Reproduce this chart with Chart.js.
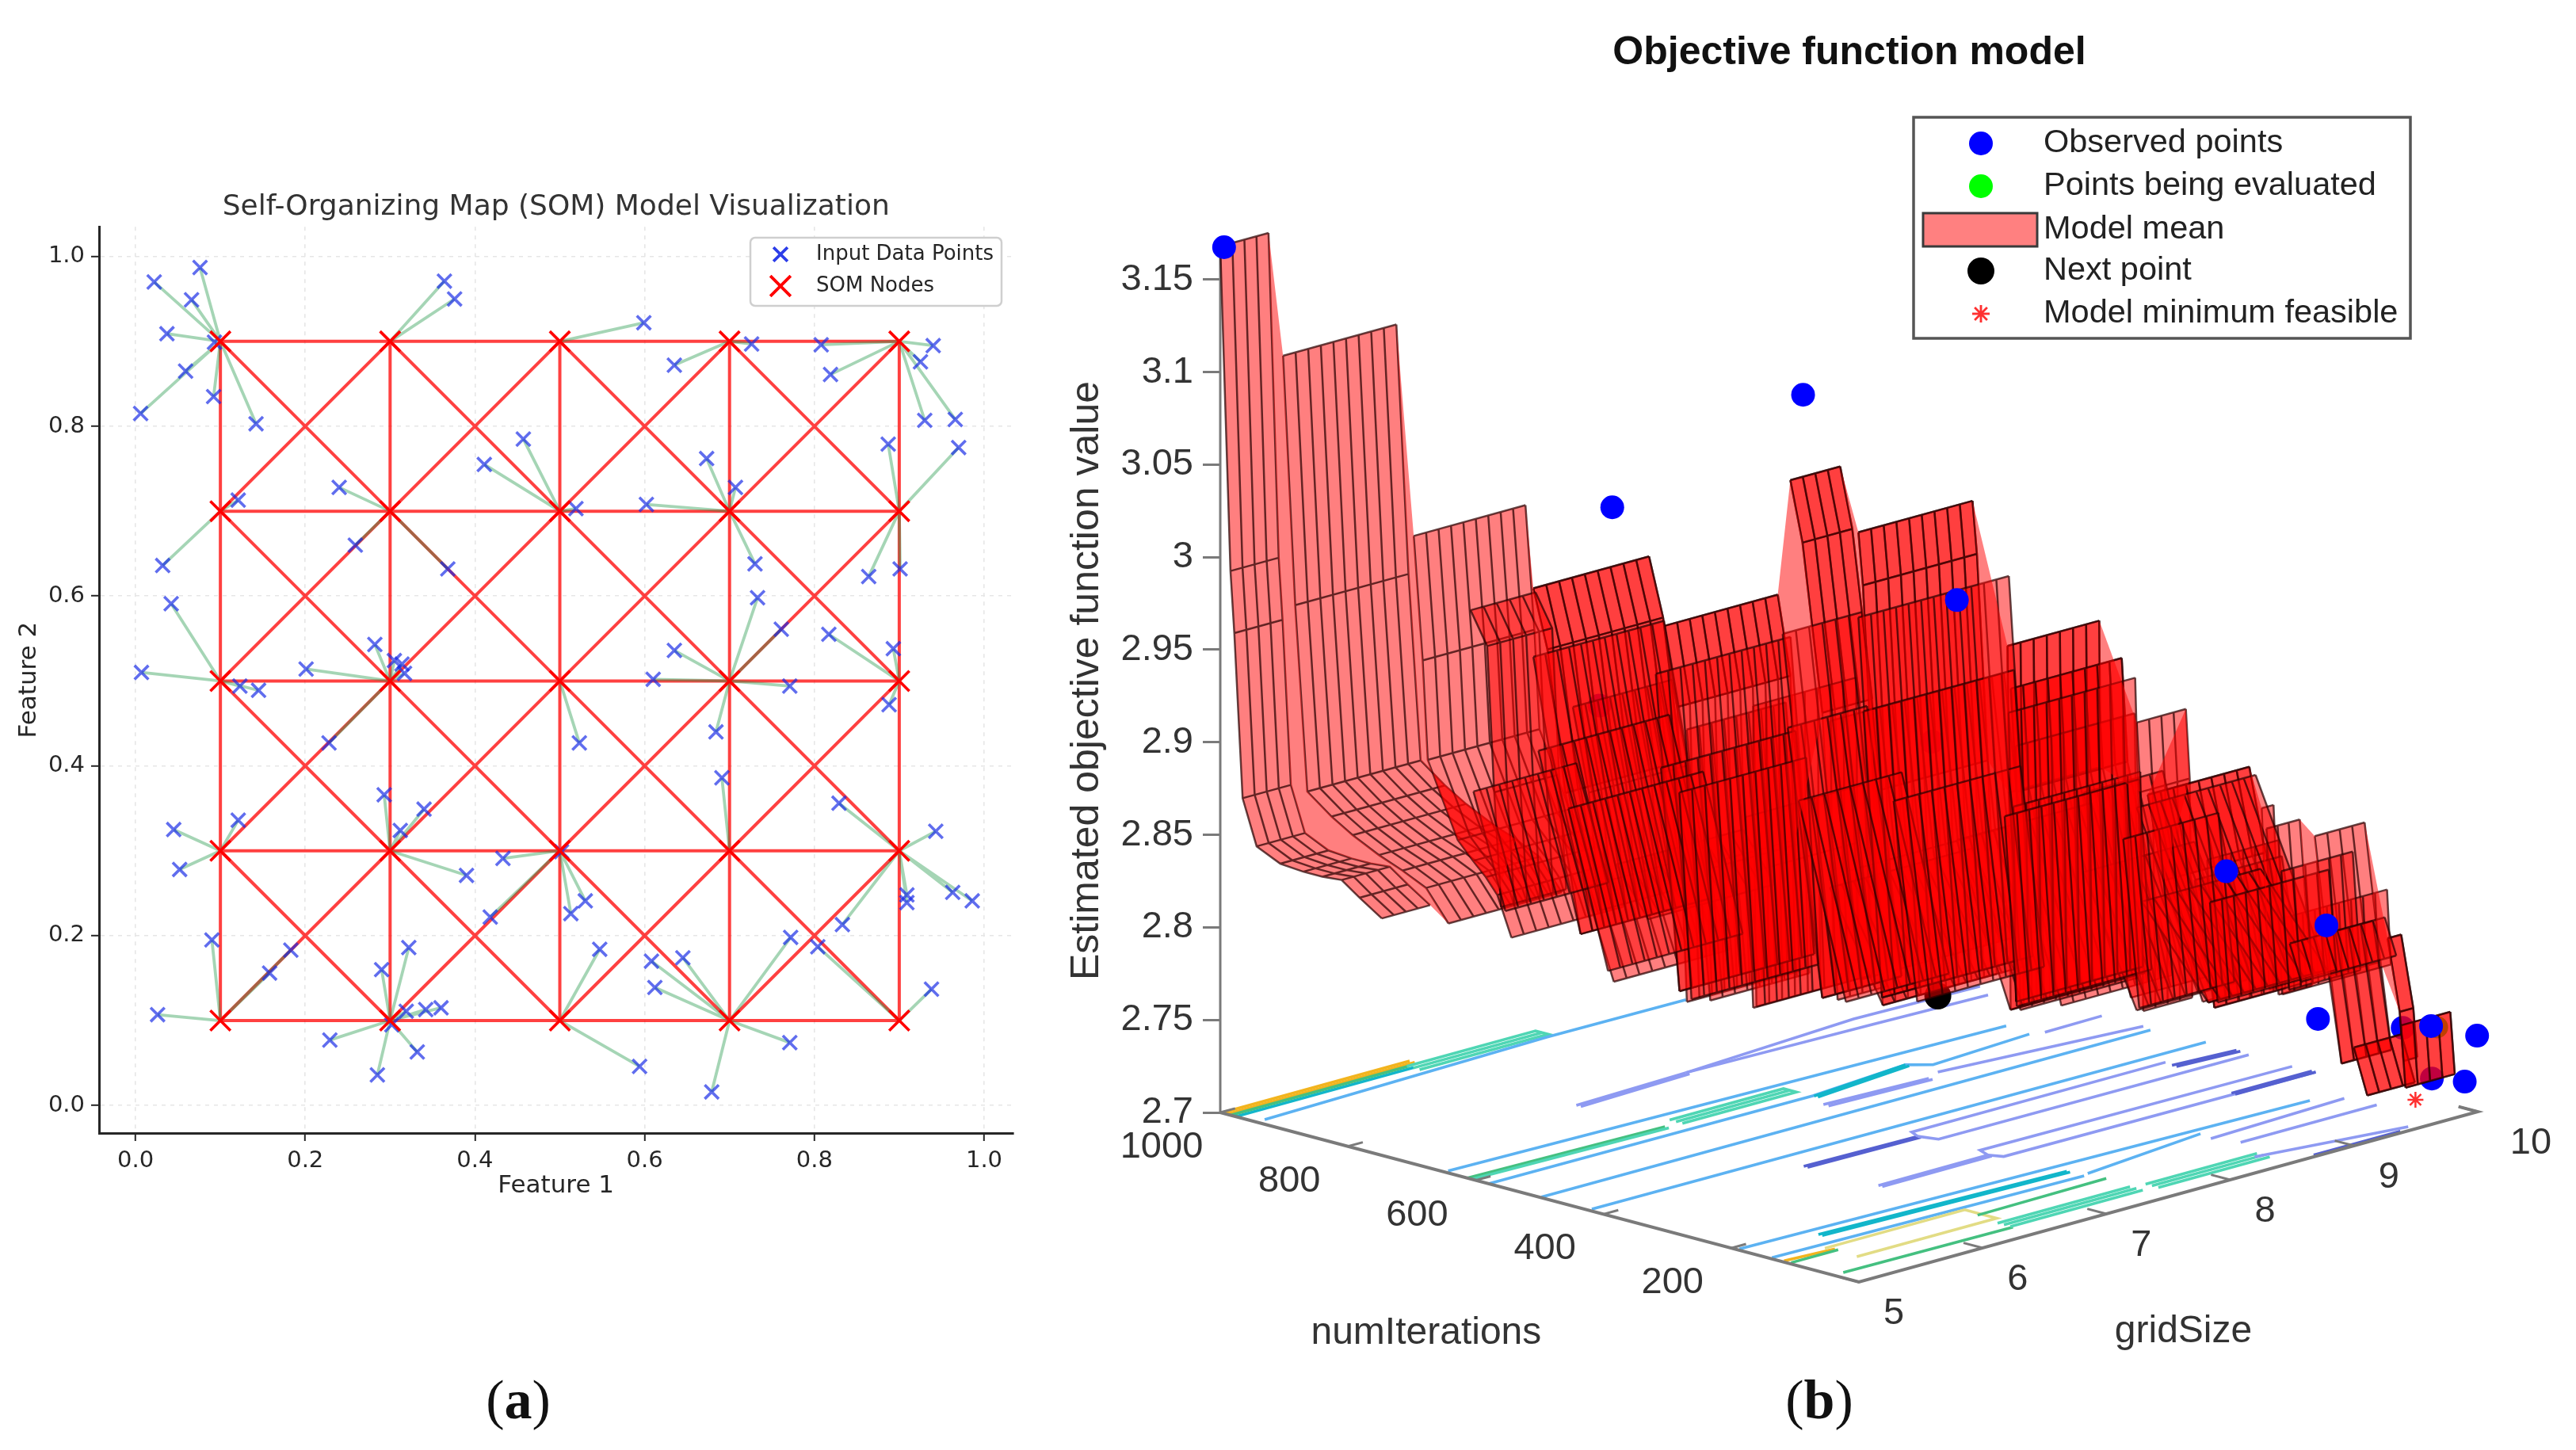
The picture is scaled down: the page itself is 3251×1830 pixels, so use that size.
<!DOCTYPE html>
<html>
<head>
<meta charset="utf-8">
<title>SOM model and objective function model</title>
<script src="https://cdn.jsdelivr.net/npm/chart.js@4"></script>
<style>
    html, body { margin: 0; padding: 0; background: #fff; }
    body { position: relative; width: 3251px; height: 1830px; overflow: hidden; }
    canvas { position: absolute; }
    #somChart { left: 0; top: 200px; }
    #objectiveChart { left: 1300px; top: 0; }
    .caption { position: absolute; top: 1727px; font: 70px "Liberation Serif", serif; color: #111; transform: translateX(-50%); }
    .caption b { font-weight: bold; }
</style>
</head>
<body>
<canvas id="somChart" width="1300" height="1340"></canvas>
<canvas id="objectiveChart" width="1951" height="1830"></canvas>
<div class="caption" style="left:654px">(<b>a</b>)</div>
<div class="caption" style="left:2296px">(<b>b</b>)</div>
<script>
// ---- panel (a): SOM ----
const somTicks = [0, 0.2, 0.4, 0.6, 0.8, 1];
const nodeX = [0.1, 0.3, 0.5, 0.7, 0.9];
const nodeY = [0.1, 0.3, 0.5, 0.7, 0.9];
const inputX = [0.022, 0.076, 0.066, 0.037, 0.093, 0.059, 0.092, 0.006, 0.142, 0.364, 0.376, 0.599, 0.635, 0.726, 0.808, 0.819, 0.940, 0.925, 0.966, 0.930,
    0.970, 0.887, 0.457, 0.411, 0.673, 0.707, 0.240, 0.121, 0.519, 0.602, 0.032, 0.259, 0.368, 0.730, 0.864, 0.901, 0.733, 0.042, 0.761, 0.817,
    0.635, 0.893, 0.282, 0.305, 0.314, 0.317, 0.201, 0.007, 0.123, 0.145, 0.610, 0.771, 0.888, 0.523, 0.228, 0.684, 0.691, 0.293, 0.829, 0.340,
    0.045, 0.121, 0.312, 0.943, 0.052, 0.502, 0.433, 0.390, 0.418, 0.530, 0.513, 0.909, 0.909, 0.963, 0.986, 0.833, 0.090, 0.183, 0.158, 0.322,
    0.290, 0.547, 0.608, 0.612, 0.645, 0.772, 0.804, 0.938, 0.026, 0.360, 0.342, 0.319, 0.302, 0.229, 0.332, 0.285, 0.594, 0.771, 0.679];
const inputY = [0.970, 0.987, 0.949, 0.909, 0.899, 0.865, 0.835, 0.815, 0.803, 0.971, 0.950, 0.922, 0.872, 0.897, 0.896, 0.861, 0.895, 0.876, 0.808, 0.807,
    0.775, 0.779, 0.785, 0.755, 0.762, 0.728, 0.728, 0.713, 0.703, 0.708, 0.636, 0.660, 0.632, 0.638, 0.623, 0.632, 0.598, 0.591, 0.561, 0.555,
    0.536, 0.538, 0.543, 0.524, 0.520, 0.509, 0.514, 0.510, 0.494, 0.489, 0.502, 0.494, 0.472, 0.427, 0.427, 0.440, 0.386, 0.366, 0.356, 0.349,
    0.325, 0.336, 0.324, 0.323, 0.278, 0.299, 0.291, 0.271, 0.222, 0.241, 0.226, 0.248, 0.239, 0.251, 0.241, 0.213, 0.195, 0.183, 0.156, 0.186,
    0.160, 0.184, 0.170, 0.139, 0.174, 0.198, 0.187, 0.137, 0.107, 0.115, 0.113, 0.111, 0.095, 0.077, 0.063, 0.036, 0.046, 0.074, 0.016];

// ---- panel (b): objective function model ----
const zTicks = [2.7, 2.75, 2.8, 2.85, 2.9, 2.95, 3, 3.05, 3.1, 3.15];
const iterTicks = [1000, 800, 600, 400, 200];
const gridTicks = [5, 6, 7, 8, 9, 10];

// observed points: the ones behind the surface come out purple
const hiddenGrid = [6, 7.5, 9, 9.6, 9.65];
const hiddenIter = [600, 370, 210, 40, 4];
const hiddenZ = [2.938, 2.912, 2.799, 2.749, 2.724];
const observedGrid = [5, 6, 7, 8, 9, 9.5, 8.9, 9.85, 10, 9.9];
const observedIter = [994, 580, 475, 428, 200, 140, 37, 44, 1, 1];
const observedZ = [3.168, 3.047, 3.099, 2.974, 2.830, 2.797, 2.767, 2.745, 2.741, 2.718];
const evaluatedGrid = [9.8];
const evaluatedIter = [25];
const evaluatedZ = [2.747];
const nextGrid = [7.65];
const nextIter = [390];
const nextZ = [2.770];
const minimumGrid = [9.6];
const minimumIter = [20];
const minimumZ = [2.712];

// model mean surface, one strip per step of the staircase
const sheetGridFrom = [5, 5.244, 5.753, 6.219, 6.732, 7.222, 7.488, 8.068, 8.08, 8.571, 8.614, 9.059, 9.077, 9.266, 9.55, 9.417, 9.602,
    6.219, 6.732, 7.222, 7.488, 8.068, 8.08, 8.614,
    5.975, 6.373, 6.818, 7.377, 7.077, 8.099, 8.364, 8.846, 9.123,
    6.543, 7.046, 7.377, 7.87, 8.364, 8.796,
    6.219, 6.698, 7.191, 7.488, 8.071, 8.571, 9.136,
    6.219, 6.698, 7.191, 7.488, 8.071, 8.571,
    9.266, 9.55, 9.417, 9.602,
    5.988, 6.358, 6.79, 7.253, 7.623, 8.056, 8.519, 8.858, 9.167];
const sheetGridTo = [5.39, 6.16, 6.656, 7.154, 7.647, 7.625, 8.41, 8.81, 8.976, 8.968, 9.434, 9.155, 9.346, 9.669, 9.66, 9.801, 10,
    7.154, 7.647, 7.625, 8.41, 8.81, 8.976, 9.434,
    6.5, 7.173, 7.618, 8.785, 7.909, 9.059, 9.004, 9.422, 10,
    7.567, 8.006, 8.529, 8.958, 9.26, 9.5,
    7.275, 7.786, 7.831, 8.704, 9.095, 9.531, 9.712,
    7.275, 7.786, 7.831, 8.704, 9.095, 9.531,
    9.669, 9.66, 9.801, 10,
    6.82, 7.446, 7.814, 8.085, 8.648, 9.144, 9.287, 9.818, 9.935];
const sheetIter = [
    [1000, 984, 978, 965, 943, 906, 870, 840, 810, 782, 747],
    [949, 930, 911, 873, 840, 799, 762, 725, 690],
    [843, 829, 821, 774, 750, 730, 712, 690],
    [746, 724, 696, 665, 620],
    [640, 620, 613, 605],
    [538, 519, 488, 464],
    [483, 476, 459, 445],
    [362, 360, 357],
    [359, 350, 280],
    [257, 251, 247],
    [248, 223, 162],
    [156, 144],
    [152, 133],
    [113, 88, 71],
    [54, 35, 29],
    [81, 60],
    [43, 36],
    [746, 724, 696],
    [640, 620],
    [538, 519, 488],
    [483, 476, 459],
    [362, 360],
    [359, 350],
    [248, 223],
    [797, 771, 760, 749],
    [714, 689, 671],
    [622, 603, 585],
    [506, 481, 456],
    [568, 566, 563],
    [355, 348],
    [300, 226],
    [200, 189],
    [142, 136],
    [679, 629],
    [574, 562],
    [506, 423],
    [403, 319],
    [300, 217],
    [210, 179],
    [746, 672],
    [647, 610],
    [544, 482],
    [483, 446],
    [361, 349],
    [257, 145],
    [140, 128],
    [738, 672],
    [639, 610],
    [536, 482],
    [475, 446],
    [353, 349],
    [249, 145],
    [100, 71],
    [54, 35, 29],
    [81, 60],
    [43, 36],
    [795, 745],
    [718, 656],
    [628, 609],
    [531, 457],
    [454, 417],
    [364, 345],
    [268, 243],
    [198, 186],
    [133, 115]
];
const sheetZ = [
    [3.168, 2.994, 2.961, 2.873, 2.849, 2.843, 2.842, 2.842, 2.843, 2.836, 2.828],
    [3.109, 2.976, 2.877, 2.867, 2.860, 2.853, 2.848, 2.842, 2.826],
    [3.012, 2.946, 2.893, 2.854, 2.845, 2.838, 2.830, 2.809],
    [2.984, 2.953, 2.878, 2.830, 2.783],
    [2.964, 2.922, 2.834, 2.764],
    [3.043, 3.011, 2.922, 2.769],
    [3.015, 2.987, 2.877, 2.763],
    [2.954, 2.875, 2.758],
    [2.931, 2.876, 2.767],
    [2.913, 2.876, 2.758],
    [2.874, 2.830, 2.770],
    [2.867, 2.770],
    [2.856, 2.768],
    [2.852, 2.779, 2.733],
    [2.797, 2.759, 2.733],
    [2.738, 2.714],
    [2.750, 2.717],
    [2.984, 2.953, 2.878],
    [2.964, 2.922],
    [3.043, 3.011, 2.922],
    [3.015, 2.987, 2.877],
    [2.954, 2.875],
    [2.931, 2.876],
    [2.874, 2.830],
    [2.972, 2.955, 2.877, 2.816],
    [2.920, 2.876, 2.814],
    [2.908, 2.833, 2.765],
    [2.913, 2.834, 2.778],
    [2.921, 2.832, 2.759],
    [2.900, 2.758],
    [2.875, 2.771],
    [2.839, 2.760],
    [2.807, 2.767],
    [2.835, 2.810],
    [2.861, 2.759],
    [2.823, 2.767],
    [2.849, 2.765],
    [2.832, 2.765],
    [2.828, 2.762],
    [2.947, 2.804],
    [2.938, 2.770],
    [2.960, 2.769],
    [2.969, 2.767],
    [2.918, 2.763],
    [2.867, 2.772],
    [2.833, 2.770],
    [2.897, 2.804],
    [2.888, 2.770],
    [2.910, 2.769],
    [2.919, 2.767],
    [2.868, 2.763],
    [2.817, 2.772],
    [2.800, 2.733],
    [2.797, 2.759, 2.733],
    [2.738, 2.714],
    [2.750, 2.717],
    [2.874, 2.814],
    [2.865, 2.783],
    [2.874, 2.764],
    [2.870, 2.768],
    [2.870, 2.765],
    [2.862, 2.761],
    [2.850, 2.761],
    [2.816, 2.763],
    [2.794, 2.775]
];
// steps of the staircase joined by a wall, and how many profile levels each side of it takes
const wallFrom = [0, 1, 2, 3, 4, 5, 6, 7, 9, 10, 12, 13];
const wallTo = [1, 2, 3, 4, 5, 6, 7, 9, 10, 11, 13, 14];
const wallNearLevels = [11, 7, 4, 2, 3, 3, 3, 2, 2, 2, 2, 2];
const wallFarLevels = [9, 7, 3, 2, 3, 3, 2, 2, 2, 2, 2, 2];

// contours on the floor of the box
const contourGrid = [
    [5, 6.52], [5, 6.52], [5, 6.44], [5, 6.44],
    [6.43, 7.47, 7.47, 6.43], [6.43, 7.47], [5.07, 7.42, 8.53],
    [5.03, 9.41], [5, 7.6, 8.43, 8.54, 9.38], [7.6, 8.43], [7.6, 8.43], [9.47, 9.94],
    [5, 6.55], [5, 6.55], [6.67, 7.59, 7.59, 6.67], [6.67, 7.59],
    [5.01, 9.92], [5.03, 9.96],
    [6.52, 7.44], [6.52, 7.44], [7.44, 8.91, 9.9], [7.44, 8.9, 9.8],
    [7.51, 8.32], [7.51, 8.32], [8.45, 9.95],
    [9.48, 9.96], [9.48, 9.96],
    [6.51, 7.41], [6.51, 7.41], [7.41, 7.45, 9.5], [7.41, 7.45, 9.94],
    [6.52, 7.41], [6.52, 7.41], [7.41, 7.45, 9.94], [7.41, 7.45, 9.95], [9.3, 9.95], [9.3, 9.95],
    [5.02, 9.5], [5.55, 7.48], [5.55, 7.48], [7.53, 8.57], [8.54, 9.67], [5.02, 7.48],
    [5.02, 5.4], [5.02, 5.4], [5.37, 6.5, 6.5, 5.37],
    [5.08, 6.43], [6.47, 7.53], [6.43, 7.5], [6.43, 7.5], [6.43, 7.5], [7.6, 8.5], [7.6, 8.5], [7.6, 8.5],
    [8.44, 9.5], [8.6, 9.7], [8.7, 9.4]
];
const contourIter = [
    [998, 998], [990, 990], [976, 976], [984, 984],
    [985, 985, 965, 965], [975, 975], [944, 958, 955],
    [649, 624], [580, 576, 592, 570, 582], [574, 592], [568, 586], [575, 577],
    [613, 604], [606, 598], [620, 620, 600, 600], [610, 610],
    [499, 497], [424, 418],
    [737, 744], [730, 738], [744, 766, 760], [744, 735, 728],
    [542, 534], [534, 528], [545, 514],
    [371, 364], [378, 370],
    [379, 375], [373, 370], [375, 392, 392], [375, 350, 347],
    [264, 265], [258, 259], [265, 285, 279], [265, 248, 244], [244, 244], [250, 250],
    [191, 166], [170, 155], [164, 150], [132, 157], [135, 145], [140, 128],
    [121, 115], [110, 110], [125, 125, 75, 75],
    [40, 36], [99, 103], [60, 60], [50, 50], [40, 40], [55, 55], [45, 45], [35, 35],
    [47, 12], [100, 100], [5, 5]
];
const contourValue = [
    3.05, 3.05, 2.8, 2.88,
    2.84, 2.84, 2.77,
    2.77, 2.77, 2.8, 2.8, 2.75,
    2.88, 2.84, 2.84, 2.84,
    2.77, 2.77,
    2.75, 2.75, 2.75, 2.75,
    2.75, 2.75, 2.75,
    2.74, 2.74,
    2.74, 2.74, 2.75, 2.75,
    2.75, 2.75, 2.75, 2.75, 2.74, 2.74,
    2.77, 2.8, 2.8, 2.77, 2.75, 2.77,
    3.05, 2.88, 2.95,
    2.88, 2.88, 2.84, 2.84, 2.84, 2.84, 2.84, 2.84,
    2.75, 2.75, 2.74
];
const contourLevels = [2.74, 2.75, 2.77, 2.8, 2.84, 2.88, 2.95, 3.05];
const contourColors = ['#5560d0', '#8e9af2', '#5cb2f2', '#12b6ca', '#4fd6b4', '#44c080', '#e2dc84', '#f2b41e'];

// view of the 3D box: how far one unit of each axis moves on the page
const ITER_ACROSS = 0.806;
const GRID_ACROSS = 156.2;
const ITER_DROP = 0.214 / 2336;
const GRID_RISE = 43 / 2336;
const FLOOR_Z = 2.7;

function project(grid, iter, z) {
    return {
        x: ITER_ACROSS * (1000 - iter) + GRID_ACROSS * (grid - 5),
        y: z - ITER_DROP * (1000 - iter) + GRID_RISE * (grid - 5)
    };
}

const GAP = { x: NaN, y: NaN };
const SURFACE_FILL = 'rgba(255, 0, 0, 0.5)';
const MESH_COLOR = 'rgba(40, 0, 0, 0.72)';

function lineSet(data, color, width, extra) {
    return Object.assign({
        data: data, showLine: true, borderColor: color, borderWidth: width,
        pointRadius: 0, tension: 0, clip: false
    }, extra || {});
}

function markerSet(data, style, radius, fill, stroke, width) {
    return {
        data: data, showLine: false, pointStyle: style, pointRadius: radius,
        backgroundColor: fill, borderColor: stroke, pointBorderWidth: width, clip: false
    };
}

function polygonSet(points) {
    return lineSet(points.concat([points[0]]), 'rgba(0,0,0,0)', 0, {
        fill: 'shape', backgroundColor: SURFACE_FILL
    });
}

function edgePoints(sheet, grid) {
    return sheetIter[sheet].map((iter, i) => project(grid, iter, sheetZ[sheet][i]));
}

function meshPoints(sheet) {
    const from = sheetGridFrom[sheet];
    const to = sheetGridTo[sheet];
    const points = [];
    sheetIter[sheet].forEach((iter, i) => {
        points.push(project(from, iter, sheetZ[sheet][i]), project(to, iter, sheetZ[sheet][i]), GAP);
    });
    const count = Math.round((to - from) / 0.1);
    for (let c = 0; c <= count; c++) {
        const grid = from + (to - from) * c / count;
        points.push(...edgePoints(sheet, grid), GAP);
    }
    return points;
}

function buildObjectiveDatasets() {
    const sets = [];
    contourGrid.forEach((grids, i) => {
        const points = grids.map((g, j) => project(g, contourIter[i][j], FLOOR_Z));
        const color = contourColors[contourLevels.indexOf(contourValue[i])];
        sets.push(lineSet(points, color, 3.6));
    });
    // box axes
    const axisColor = '#7a7a7a';
    sets.push(lineSet([project(5, 1000, FLOOR_Z), project(5, 1000, 3.172)], axisColor, 3));
    sets.push(lineSet([project(5, 1000, FLOOR_Z), project(5, 0, FLOOR_Z), project(10, 0, FLOOR_Z), project(10, 30, FLOOR_Z)], axisColor, 4));
    iterTicks.forEach(n => sets.push(lineSet([project(5, n, FLOOR_Z), project(5.12, n, FLOOR_Z)], axisColor, 3)));
    gridTicks.forEach(g => sets.push(lineSet([project(g, 0, FLOOR_Z), project(g, 30, FLOOR_Z)], axisColor, 3)));

    const toPoints = (gs, ns, zs) => gs.map((g, i) => project(g, ns[i], zs[i]));
    sets.push(markerSet(toPoints(hiddenGrid, hiddenIter, hiddenZ), 'circle', 15, '#0000ff', '#0000ff', 0));
    sets.push(markerSet(toPoints(nextGrid, nextIter, nextZ), 'circle', 17, '#000', '#000', 0));
    sets.push(markerSet(toPoints(evaluatedGrid, evaluatedIter, evaluatedZ), 'circle', 14, '#00ff00', '#00ff00', 0));

    sheetGridFrom.forEach((from, s) => {
        const left = edgePoints(s, from);
        const right = edgePoints(s, sheetGridTo[s]);
        sets.push(polygonSet(left.concat(right.slice().reverse())));
        sets.push(lineSet(meshPoints(s), MESH_COLOR, 2.5));
    });
    wallFrom.forEach((a, i) => {
        const b = wallTo[i];
        const near = edgePoints(a, sheetGridTo[a]).slice(0, wallNearLevels[i]);
        const far = edgePoints(b, sheetGridFrom[b]).slice(0, wallFarLevels[i]);
        sets.push(polygonSet(near.concat(far.slice().reverse())));
    });

    sets.push(markerSet(toPoints(observedGrid, observedIter, observedZ), 'circle', 15, '#0000ff', '#0000ff', 0));
    sets.push(markerSet(toPoints(minimumGrid, minimumIter, minimumZ), 'star', 10, '#ff3030', '#ff3030', 2.5));
    // the last dataset is painted first, so flip the back to front list
    return sets.reverse();
}

function buildSomDatasets() {
    const lattice = [];
    const nodes = [];
    nodeX.forEach((x, i) => {
        nodeY.forEach((y, j) => {
            nodes.push({ x: x, y: y });
            if (i < nodeX.length - 1) lattice.push({ x: x, y: y }, { x: nodeX[i + 1], y: y }, GAP);
            if (j < nodeY.length - 1) lattice.push({ x: x, y: y }, { x: x, y: nodeY[j + 1] }, GAP);
            if (i < nodeX.length - 1 && j < nodeY.length - 1) {
                lattice.push({ x: x, y: y }, { x: nodeX[i + 1], y: nodeY[j + 1] }, GAP);
                lattice.push({ x: nodeX[i + 1], y: y }, { x: x, y: nodeY[j + 1] }, GAP);
            }
        });
    });
    const inputs = inputX.map((x, i) => ({ x: x, y: inputY[i] }));
    const links = [];
    inputs.forEach(p => {
        let best = nodes[0];
        nodes.forEach(n => {
            if (Math.hypot(n.x - p.x, n.y - p.y) < Math.hypot(best.x - p.x, best.y - p.y)) best = n;
        });
        links.push(p, best, GAP);
    });
    return [
        Object.assign(markerSet(nodes, 'crossRot', 18, '#ff0000', '#ff0000', 3.6), { label: 'SOM Nodes' }),
        Object.assign(markerSet(inputs, 'crossRot', 12.5, 'rgba(0,0,255,0.6)', 'rgba(20,40,230,0.68)', 3.6), { label: 'Input Data Points' }),
        lineSet(links, 'rgba(30,150,70,0.4)', 3.8),
        lineSet(lattice, 'rgba(255,0,0,0.75)', 4)
    ];
}

// legend box drawn on the canvas, the library's legend can't sit at a free spot
const boxLegend = {
    id: 'boxLegend',
    afterDraw(chart, args, opts) {
        const ctx = chart.ctx;
        ctx.save();
        ctx.fillStyle = '#fff';
        ctx.strokeStyle = opts.borderColor;
        ctx.lineWidth = opts.borderWidth;
        ctx.beginPath();
        ctx.roundRect(opts.left, opts.top, opts.width, opts.height, opts.radius);
        ctx.fill();
        ctx.stroke();
        ctx.textBaseline = 'middle';
        ctx.textAlign = 'left';
        ctx.font = opts.font;
        opts.rows.forEach(row => {
            if (row.patch) {
                ctx.fillStyle = '#ff8080';
                ctx.strokeStyle = '#3a3a3a';
                ctx.lineWidth = 3;
                ctx.fillRect(row.patch[0], row.y - 21, row.patch[1], 42);
                ctx.strokeRect(row.patch[0], row.y - 21, row.patch[1], 42);
            } else {
                ctx.fillStyle = row.fill;
                ctx.strokeStyle = row.fill;
                ctx.lineWidth = row.width;
                Chart.helpers.drawPoint(ctx, { pointStyle: row.style, radius: row.radius, borderWidth: row.width, rotation: 0 }, opts.markX, row.y);
                if (row.width > 0) ctx.stroke();
            }
            ctx.fillStyle = opts.color;
            ctx.fillText(row.text, opts.textX, row.y);
        });
        ctx.restore();
    }
};

// tick labels and titles of the two floor axes
const floorAxes = {
    id: 'floorAxes',
    afterDatasetsDraw(chart) {
        const ctx = chart.ctx;
        const xs = chart.scales.x;
        const ys = chart.scales.y;
        const at = (g, n) => {
            const p = project(g, n, FLOOR_Z);
            return [xs.getPixelForValue(p.x), ys.getPixelForValue(p.y)];
        };
        ctx.save();
        ctx.fillStyle = '#333';
        ctx.textAlign = 'center';
        ctx.textBaseline = 'middle';
        ctx.font = '47px "Liberation Sans", sans-serif';
        iterTicks.forEach(n => {
            const [px, py] = at(5, n);
            ctx.fillText(String(n), px - 74, py + 44);
        });
        gridTicks.forEach(g => {
            const [px, py] = at(g, 0);
            ctx.fillText(String(g), px + (g === 10 ? 67 : 44), py + 40);
        });
        ctx.font = '48px "Liberation Sans", sans-serif';
        const [ix, iy] = at(5, 520);
        ctx.fillText('numIterations', ix - 127, iy + 176);
        const [gx, gy] = at(7.5, 0);
        ctx.fillText('gridSize', gx + 19, gy + 170);
        ctx.restore();
    }
};

const AX_COLOR = '#262626';
const TICK_FONT = { family: 'DejaVu Sans', size: 29 };

function somAxis(label, extra) {
    return Object.assign({
        type: 'linear',
        ticks: {
            color: AX_COLOR, font: TICK_FONT, padding: 8, includeBounds: false, stepSize: 0.2, maxRotation: 0,
            callback: v => (somTicks.some(t => Math.abs(t - v) < 1e-6) ? Number(v).toFixed(1) : '')
        },
        grid: { color: '#e6e6e6', lineWidth: 1.6, tickColor: AX_COLOR, tickLength: 10, tickWidth: 2, tickBorderDash: [] },
        border: { color: AX_COLOR, width: 3, dash: [5, 6] }
    }, extra, { title: { display: true, text: label, color: AX_COLOR, font: { family: 'DejaVu Sans', size: 31, lineHeight: 1.2 }, padding: extra.titlePadding } });
}

new Chart(document.getElementById('somChart'), {
    type: 'scatter',
    data: { datasets: buildSomDatasets() },
    plugins: [boxLegend],
    options: {
        responsive: false,
        animation: false,
        events: [],
        layout: { padding: { left: 0, top: 0, right: 18, bottom: 0 } },
        scales: {
            x: somAxis('Feature 1', {
                min: -0.043, max: 1.034, titlePadding: { top: 0, bottom: 24 },
                afterFit: scale => { scale.height = 110; }
            }),
            y: somAxis('Feature 2', {
                min: -0.0325, max: 1.035, titlePadding: { top: 18, bottom: 0 },
                afterFit: scale => { scale.width = 125; }
            })
        },
        plugins: {
            legend: { display: false },
            tooltip: { enabled: false },
            title: {
                display: true, fullSize: false,
                text: 'Self-Organizing Map (SOM) Model Visualization',
                color: '#333', font: { family: 'DejaVu Sans', size: 36, weight: 'normal', lineHeight: 1.2 },
                padding: { top: 40, bottom: 3 }
            },
            boxLegend: {
                left: 947, top: 100, width: 317, height: 86, radius: 6,
                borderColor: '#cfcfcf', borderWidth: 2.5, color: AX_COLOR,
                font: '26px "DejaVu Sans", sans-serif', markX: 985, textX: 1030,
                rows: [
                    { y: 121, text: 'Input Data Points', style: 'crossRot', radius: 12.5, fill: 'rgba(20,40,230,0.68)', width: 3.6 },
                    { y: 161, text: 'SOM Nodes', style: 'crossRot', radius: 18, fill: '#ff0000', width: 3.6 }
                ]
            }
        }
    }
});

new Chart(document.getElementById('objectiveChart'), {
    type: 'scatter',
    data: { datasets: buildObjectiveDatasets() },
    plugins: [floorAxes, boxLegend],
    options: {
        responsive: false,
        animation: false,
        events: [],
        layout: { padding: { left: 0, top: 0, right: 123, bottom: 212 } },
        scales: {
            x: { type: 'linear', display: false, min: 0, max: 1588 },
            y: {
                type: 'linear',
                min: 2.6084,
                max: 3.2582,
                afterBuildTicks: scale => { scale.ticks = zTicks.map(v => ({ value: v })); },
                afterFit: scale => { scale.width = 240; },
                ticks: {
                    color: '#333', padding: 12,
                    font: { family: 'Liberation Sans', size: 47 },
                    callback: v => String(v)
                },
                grid: { drawOnChartArea: false, tickLength: 22, tickColor: '#7a7a7a', tickWidth: 3 },
                border: { display: false },
                title: {
                    display: true, text: 'Estimated objective function value', color: '#333',
                    font: { family: 'Liberation Sans', size: 50, lineHeight: 1.2 },
                    padding: { top: 42, bottom: 0 }
                }
            }
        },
        plugins: {
            legend: { display: false },
            tooltip: { enabled: false },
            title: {
                display: true, fullSize: false,
                text: 'Objective function model',
                color: '#111', font: { family: 'Liberation Sans', size: 50, weight: 'bold', lineHeight: 1.2 },
                padding: { top: 37, bottom: 3 }
            },
            boxLegend: {
                left: 1115, top: 148, width: 627, height: 279, radius: 0,
                borderColor: '#555', borderWidth: 3.5, color: '#222',
                font: '41.5px "Liberation Sans", sans-serif', markX: 1200, textX: 1279,
                rows: [
                    { y: 181, text: 'Observed points', style: 'circle', radius: 15, fill: '#0000ff', width: 0 },
                    { y: 235, text: 'Points being evaluated', style: 'circle', radius: 15, fill: '#00ff00', width: 0 },
                    { y: 290, text: 'Model mean', patch: [1127, 144] },
                    { y: 342, text: 'Next point', style: 'circle', radius: 17, fill: '#000', width: 0 },
                    { y: 396, text: 'Model minimum feasible', style: 'star', radius: 11, fill: '#ff3030', width: 2.5 }
                ]
            }
        }
    }
});
</script>
</body>
</html>
